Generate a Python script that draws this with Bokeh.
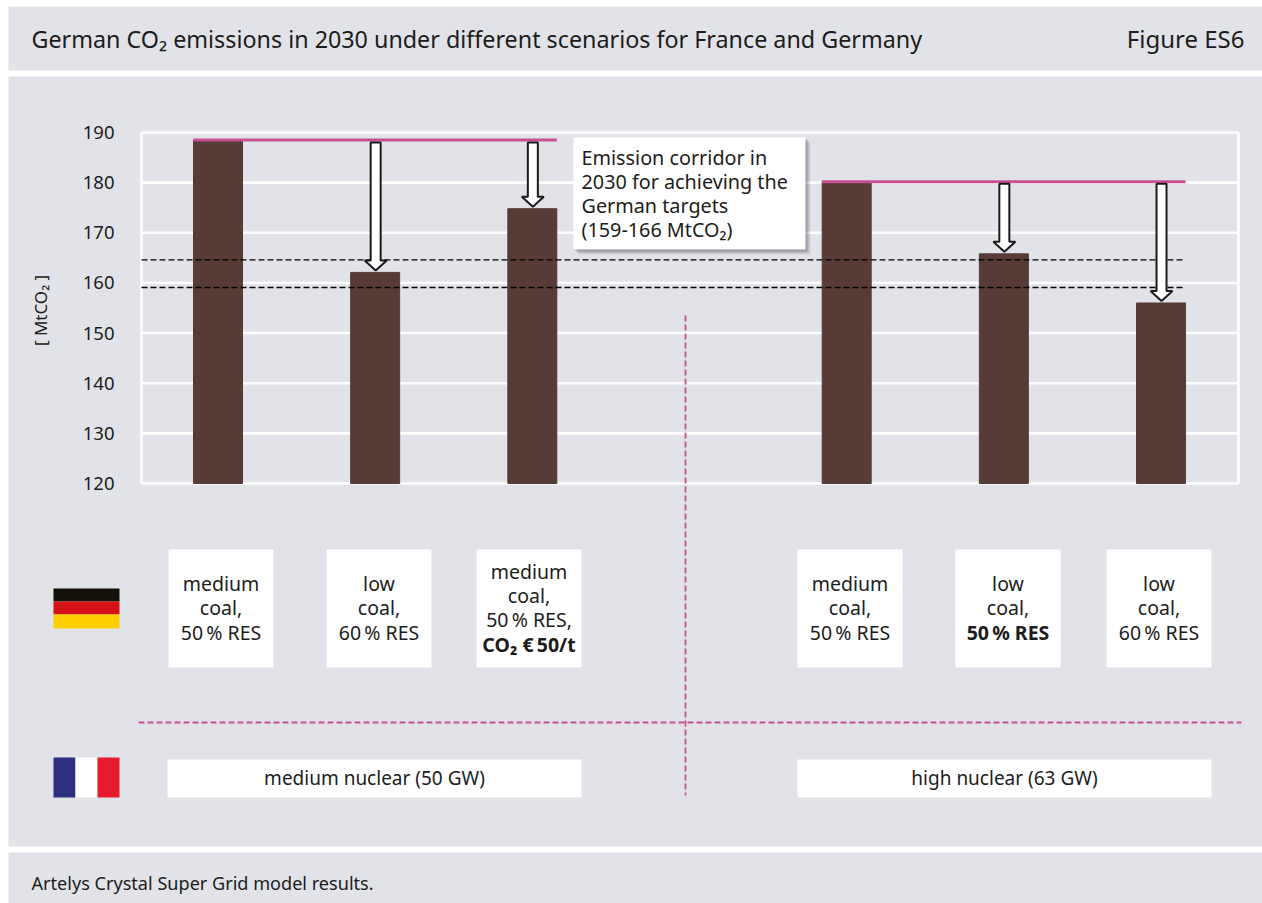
from bokeh.plotting import figure
from bokeh.models import BoxAnnotation, Label, Arrow, Range1d, FixedTicker, NumeralTickFormatter
from bokeh.embed import file_html
from bokeh.resources import INLINE

# ---- data ----
slots = [0, 1, 2, 4, 5, 6]
values = [188.5, 162.1, 174.8, 180.2, 165.8, 156.0]
reference_levels = [188.5, 188.5, 188.5, 180.2, 180.2, 180.2]
arrow_slots = [1, 2, 5, 6]
arrow_tops = [188.0, 188.0, 179.8, 179.8]
arrow_tips = [162.5, 175.2, 166.2, 156.4]
corridor = [164.6, 159.1]
y_ticks = [120, 130, 140, 150, 160, 170, 180, 190]
title = "German CO\u2082 emissions in 2030 under different scenarios for France and Germany"
figure_no = "Figure ES6"
footer = "Artelys Crystal Super Grid model results."
y_title = "[ MtCO\u2082 ]"
callout = ["Emission corridor in", "2030 for achieving the", "German targets", "(159-166 MtCO\u2082)"]
de_labels = [
    [("medium", 0), ("coal,", 0), ("50\u2009% RES", 0)],
    [("low", 0), ("coal,", 0), ("60\u2009% RES", 0)],
    [("medium", 0), ("coal,", 0), ("50\u2009% RES,", 0), ("CO\u2082 \u20ac\u200950/t", 1)],
    [("medium", 0), ("coal,", 0), ("50\u2009% RES", 0)],
    [("low", 0), ("coal,", 0), ("50\u2009% RES", 1)],
    [("low", 0), ("coal,", 0), ("60\u2009% RES", 0)],
]
fr_labels = ["medium nuclear (50 GW)", "high nuclear (63 GW)"]

# ---- style ----
FONT = "Noto Sans"
PANEL = "#e1e3e8"
INK = "#1c1c1c"
PINK = "#c94f93"
BAR = "#573b36"
W, H = 1262, 903
PX_PER_SLOT = 157.17
BAR_PX = 49
FRAME_L, FRAME_R, FRAME_T, FRAME_B = 141, 1238, 132, 483
x0_px = 217.5
x_start = -x0_px / PX_PER_SLOT
x_end = (W - x0_px) / PX_PER_SLOT
PX_PER_Y = (FRAME_B - FRAME_T) / 70.0
y_start = 120 - (H - FRAME_B) / PX_PER_Y
y_end = 190 + FRAME_T / PX_PER_Y
plot_left = (FRAME_L - x0_px) / PX_PER_SLOT
plot_right = (FRAME_R - x0_px) / PX_PER_SLOT

p = figure(width=W, height=H, output_backend="svg", toolbar_location=None,
           x_range=Range1d(x_start, x_end), y_range=Range1d(y_start, y_end),
           min_border=0, background_fill_color="white", border_fill_color="white")
p.xaxis.visible = False
p.grid.visible = False
p.outline_line_color = None
yax = p.yaxis[0]
yax.fixed_location = plot_left
yax.ticker = FixedTicker(ticks=y_ticks)
yax.formatter = NumeralTickFormatter(format="0")
yax.axis_line_color = None
yax.major_tick_line_color = None
yax.minor_tick_line_color = None
yax.major_label_text_font = FONT
yax.major_label_text_font_size = "18.5px"
yax.major_label_text_color = INK
yax.major_label_standoff = 21


def band(l, t, r, b, color, alpha=1.0, level="underlay"):
    p.add_layout(BoxAnnotation(left=l, right=r, top=t, bottom=b,
                               left_units="canvas", right_units="canvas",
                               top_units="canvas", bottom_units="canvas",
                               fill_color=color, fill_alpha=alpha, line_color=None,
                               level=level, editable=False))


def text(x, y, s, size=19, align="center", bold=False, angle=0.0):
    p.add_layout(Label(x=x, y=y, x_units="canvas", y_units="canvas", text=s, angle=angle,
                       text_font=FONT, text_font_size=f"{size}px", text_color=INK,
                       text_align=align, text_baseline="middle",
                       text_font_style="bold" if bold else "normal"))


def dashed(x1, y1, x2, y2):
    p.add_layout(Arrow(end=None, x_start=x1, y_start=y1, x_end=x2, y_end=y2,
                       start_units="canvas", end_units="canvas",
                       line_color=PINK, line_width=1.8, line_dash="6 3"))


# panels
band(8, 6, 1262, 70, PANEL)
band(8, 76, 1262, 846, PANEL)
band(8, 852, 1262, 903, PANEL)

# grid and plot frame
p.segment(x0=[plot_left] * len(y_ticks), x1=[plot_right] * len(y_ticks), y0=y_ticks, y1=y_ticks,
          line_color="white", line_width=2.6)
p.segment(x0=[plot_left, plot_right], x1=[plot_left, plot_right], y0=[120, 120], y1=[190, 190],
          line_color="white", line_width=2.6)

# bars, reference lines, corridor
p.vbar(x=slots, top=values, bottom=120, width=BAR_PX / PX_PER_SLOT, color=BAR)
half = BAR_PX / PX_PER_SLOT / 2
p.segment(x0=[slots[0] - half, slots[3] - half], x1=[slots[2] + half, slots[5] + half],
          y0=[reference_levels[0], reference_levels[3]], y1=[reference_levels[0], reference_levels[3]],
          line_color=PINK, line_width=3)
p.segment(x0=[plot_left] * 2, x1=[slots[5] + half] * 2, y0=corridor, y1=corridor,
          line_color="black", line_width=1.4, line_dash="6 3")

# block arrows
sw, hw = 5 / PX_PER_SLOT, 11 / PX_PER_SLOT
hh = 10 / PX_PER_Y
axs, ays = [], []
for s, t, b in zip(arrow_slots, arrow_tops, arrow_tips):
    s = s + 0.5 / PX_PER_SLOT
    axs.append([s - sw, s + sw, s + sw, s + hw, s, s - hw, s - sw])
    ays.append([t, t, b + hh, b + hh, b, b + hh, b + hh])
p.patches(axs, ays, fill_color="white", line_color="#1a1a1a", line_width=2)

# pink dividers
dashed(685, 315, 685, 795)
dashed(138, 722, 1241, 722)

# callout with shadow
for d, a in [(5, .10), (4, .12), (3, .14), (2, .16), (1, .2)]:
    band(573 + d, 137 + d, 805 + d, 249 + d, "#55575c", a, level="annotation")
band(573, 137, 805, 249, "white", level="annotation")
for y, s in zip([157, 181, 205, 229], callout):
    text(581, y, s, size=19.8, align="left")

# scenario boxes
box_lr = [(168, 273), (326, 431), (476, 581), (797, 902), (955, 1060), (1106, 1211)]
for (l, r), lines in zip(box_lr, de_labels):
    band(l, 549, r, 667, "white")
    ys = [571, 595, 619, 644] if len(lines) == 4 else [583, 607, 632]
    for y, (s, b) in zip(ys, lines):
        text((l + r) / 2, y, s, size=19.5, bold=bool(b))
for (l, r), s in zip([(167, 581), (797, 1211)], fr_labels):
    band(l, 759, r, 797, "white")
    text((l + r) / 2, 777, s)

# flags
band(53, 588, 119, 601, "#14110b")
band(53, 601, 119, 614, "#d71214")
band(53, 614, 119, 628, "#ffd000")
band(53, 757, 75, 797, "#2e2f81")
band(75, 757, 97, 797, "white")
band(97, 757, 119, 797, "#e61c2e")

# titles
text(31, 38, title, size=23.3, align="left")
text(1244, 38, figure_no, size=24, align="right")
text(31, 882, footer, size=18.1, align="left")
text(40, 310, y_title, size=17, angle=1.5708)

open("out.html", "w").write(file_html(p, INLINE))
